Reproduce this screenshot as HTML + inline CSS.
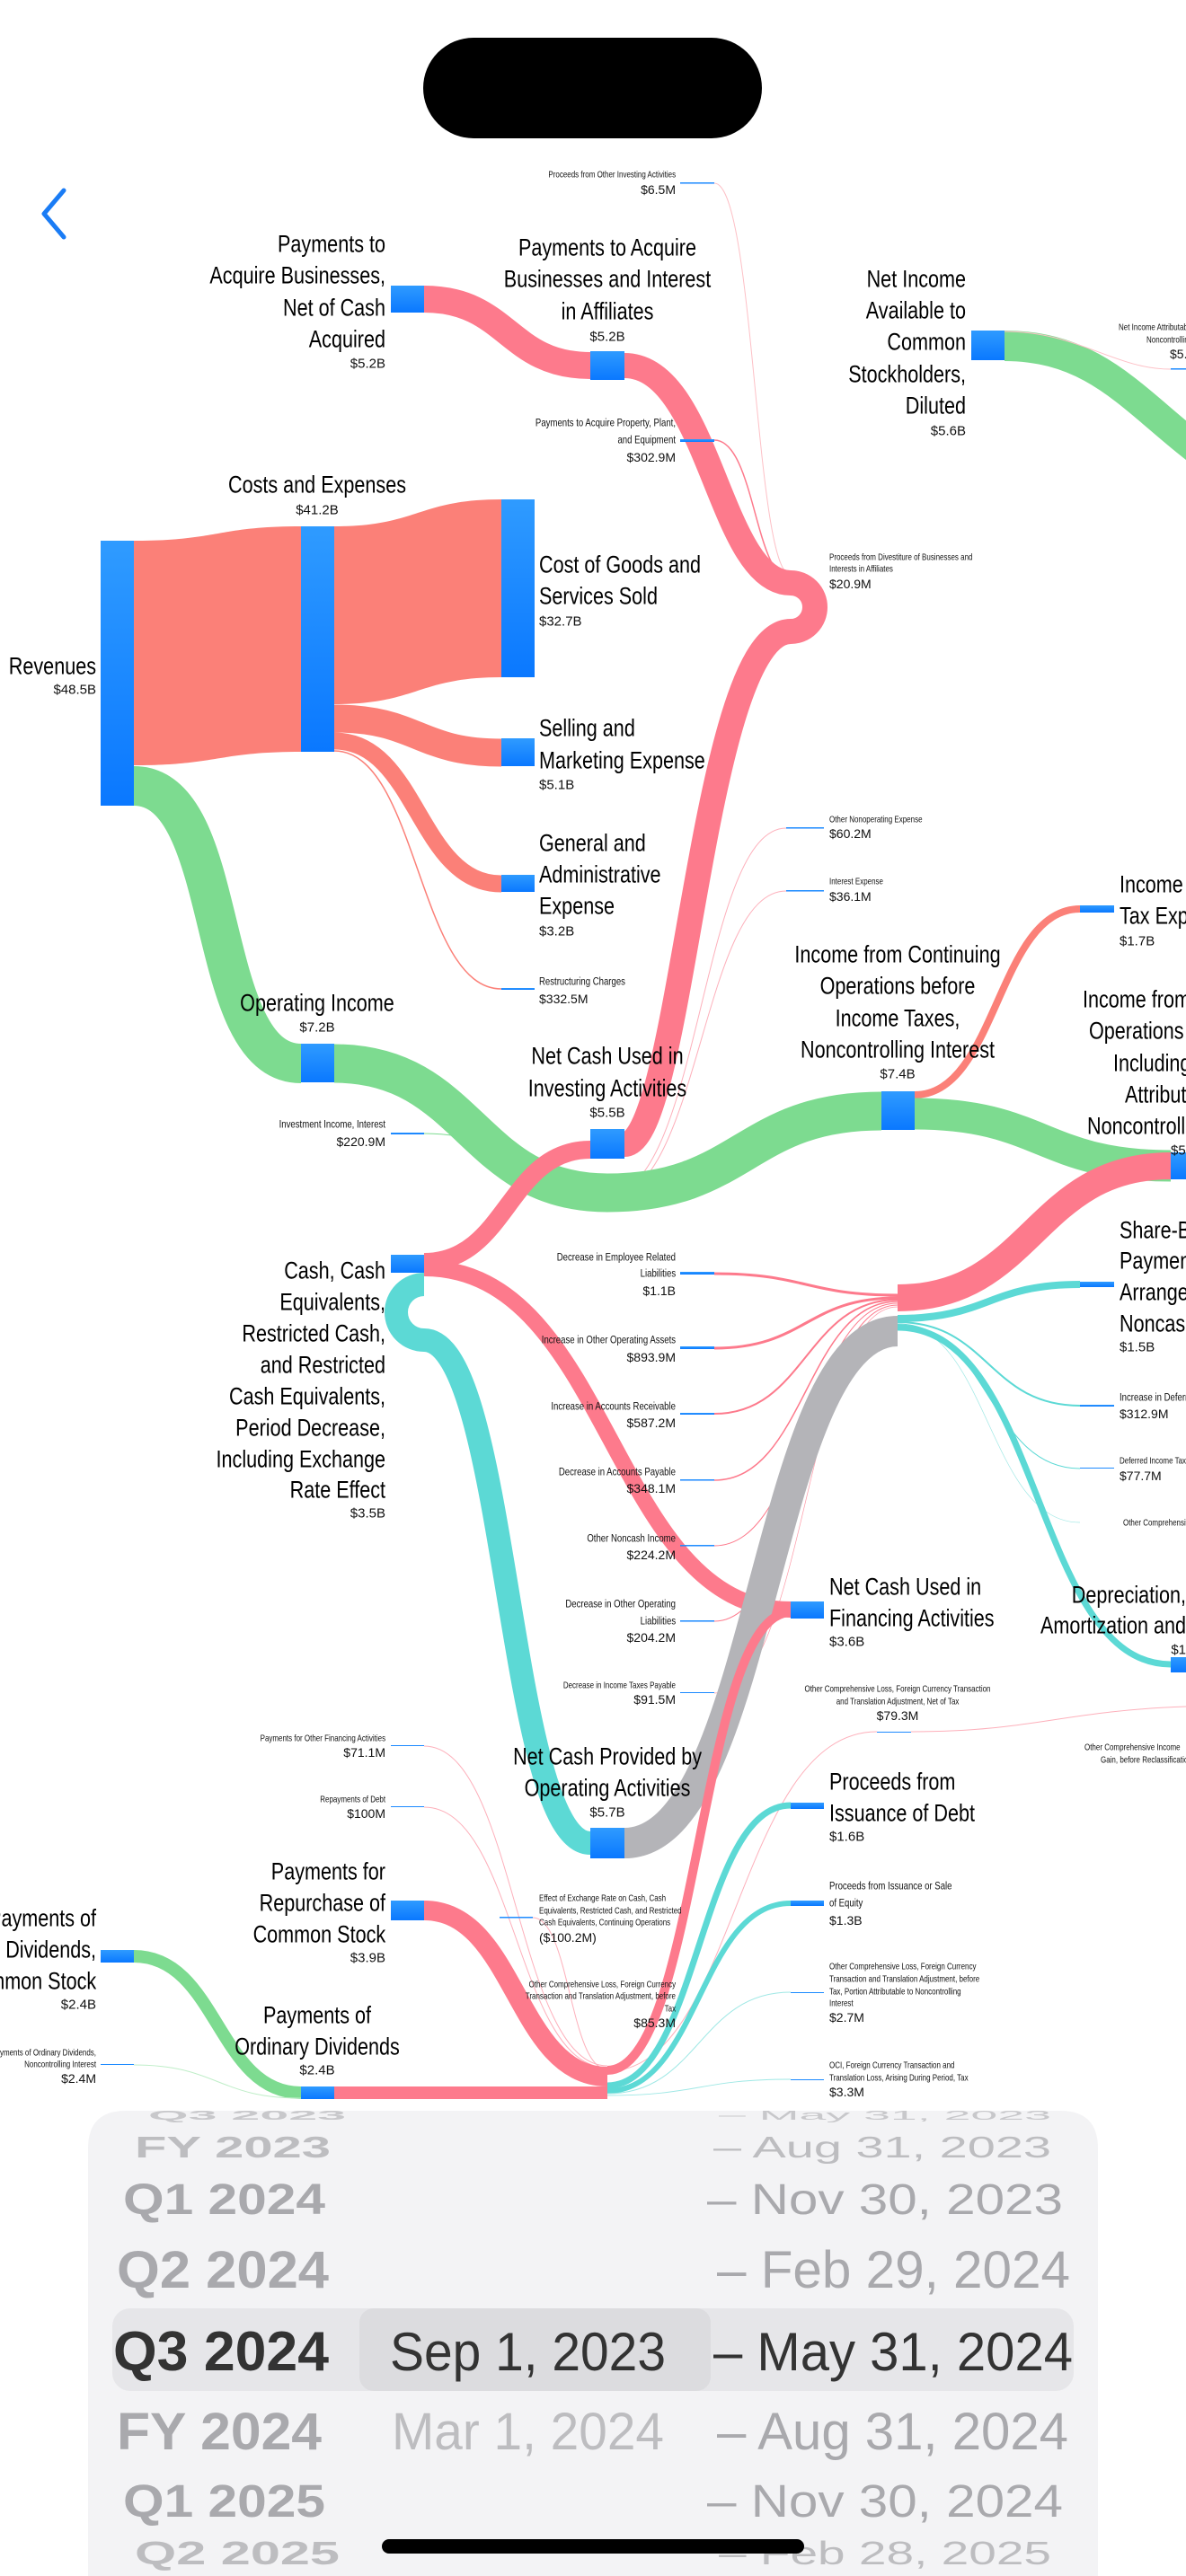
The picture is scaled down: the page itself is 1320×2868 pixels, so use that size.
<!DOCTYPE html>
<html><head><meta charset="utf-8">
<style>
html,body{margin:0;padding:0;background:#fff;}
body{width:1320px;height:2868px;overflow:hidden;position:relative;}
svg{position:absolute;left:0;top:0;}
.L{font-family:"Liberation Sans Narrow","Liberation Sans",sans-serif;font-size:27px;fill:#000;dominant-baseline:central;}
.V{font-family:"Liberation Sans",sans-serif;font-size:15px;fill:#111;dominant-baseline:central;}
.S{font-family:"Liberation Sans Narrow","Liberation Sans",sans-serif;font-size:12px;fill:#111;dominant-baseline:central;}
.SV{font-family:"Liberation Sans",sans-serif;font-size:14px;fill:#111;dominant-baseline:central;}
.L,.S{transform-box:fill-box;transform:scaleX(0.8);transform-origin:left center;}
.L[text-anchor="end"],.S[text-anchor="end"]{transform-origin:right center;}
.L[text-anchor="middle"],.S[text-anchor="middle"]{transform-origin:center center;}
.P{font-family:"Liberation Sans",sans-serif;font-weight:bold;}
.PR{font-family:"Liberation Sans",sans-serif;}
</style></head><body>
<svg width="1320" height="2868" viewBox="0 0 1320 2868" xmlns="http://www.w3.org/2000/svg">
<defs>
<linearGradient id="g" x1="0" y1="0" x2="0" y2="1"><stop offset="0" stop-color="#2f9bff"/><stop offset="1" stop-color="#0a78ff"/></linearGradient>
</defs>
<rect x="471" y="42" width="377" height="112" rx="56" fill="#000"/>
<polyline points="71,212 49,238 71,264" fill="none" stroke="#1a7cf5" stroke-width="5" stroke-linecap="round" stroke-linejoin="round"/>

<g fill="none" stroke-linecap="butt">
<path d="M149,602 C242,602 242,586 335,586 L335,837 C242,837 242,852 149,852 Z" fill="#fb8078" stroke="none"/>
<path d="M372,586 C465,586 465,556 558,556 L558,754 C465,754 465,784 372,784 Z" fill="#fb8078" stroke="none"/>
<path d="M372,800 C465,800 465,838 558,838" stroke="#fb8078" stroke-width="31"/>
<path d="M372,825 C465,825 465,984 558,984" stroke="#fb8078" stroke-width="19"/>
<path d="M372,836 C465,836 465,1101 558,1101" stroke="#fb8078" stroke-width="1.5"/>
<path d="M149,875 C260,875 224,1184 335,1184" stroke="#7ddb90" stroke-width="44"/>
<path d="M472,1262 C574,1262 574,1320 676,1320" stroke="#7ddb90" stroke-width="1"/>
<path d="M875,922 C780,922 780,1330 676,1330" stroke="#fdb0bb" stroke-width="1"/>
<path d="M875,992 C780,992 780,1334 676,1334" stroke="#fdb0bb" stroke-width="1"/>
<path d="M372,1184 C524,1184 524,1328 676,1328 C828,1328 828,1237 981,1237" stroke="#7ddb90" stroke-width="43"/>
<path d="M1018,1219 C1110,1219 1110,1012 1202,1012" stroke="#fb8078" stroke-width="8"/>
<path d="M1018,1240 C1160,1240 1160,1298 1303,1298" stroke="#7ddb90" stroke-width="35"/>
<path d="M1118,385 C1230,385 1270,460 1360,520" stroke="#7ddb90" stroke-width="34"/>
<path d="M1118,369 C1200,369 1240,411 1303,411" stroke="#fdc0c6" stroke-width="1"/>
<path d="M795,204 C840,204 840,640 880,640" stroke="#fdc0c6" stroke-width="1"/>
<path d="M795,490 C840,490 840,645 880,645" stroke="#fd7a8c" stroke-width="1.5"/>
<path d="M472,333 C565,333 565,407 657,407" stroke="#fd7a8c" stroke-width="30"/>
<path d="M695,407 C790,407 800,649 880,649 A27,27 0 0 1 880,703 C780,703 760,1274 695,1274" stroke="#fd7a8c" stroke-width="28"/>
<path d="M472,1405 C565,1405 565,1280 657,1280" stroke="#fd7a8c" stroke-width="20"/>
<path d="M795,1418 C897,1418 897,1442 999,1442" stroke="#fd7a8c" stroke-width="3"/>
<path d="M795,1501 C897,1501 897,1445 999,1445" stroke="#fd7a8c" stroke-width="3"/>
<path d="M795,1574 C897,1574 897,1447 999,1447" stroke="#fd7a8c" stroke-width="2"/>
<path d="M795,1648 C897,1648 897,1449 999,1449" stroke="#fd7a8c" stroke-width="1.5"/>
<path d="M795,1721 C897,1721 897,1451 999,1451" stroke="#fd7a8c" stroke-width="1"/>
<path d="M795,1805 C897,1805 897,1453 999,1453" stroke="#fd7a8c" stroke-width="1"/>
<path d="M795,1885 C897,1885 897,1455 999,1455" stroke="#fd9aa8" stroke-width="0.7"/>
<path d="M472,1430 A31,31 0 0 0 472,1492 C565,1492 565,2052 657,2052" stroke="#5cd9d5" stroke-width="26"/>
<path d="M472,1412 C680,1412 680,1792 880,1792" stroke="#fd7a8c" stroke-width="18"/>
<path d="M695,2052 C850,2052 850,1482 999,1482" stroke="#b4b4b8" stroke-width="34"/>
<path d="M999,1445 C1150,1445 1150,1298 1303,1298" stroke="#fd7a8c" stroke-width="30"/>
<path d="M999,1468 C1100,1468 1100,1430 1202,1430" stroke="#5cd9d5" stroke-width="8"/>
<path d="M999,1472 C1100,1472 1100,1565 1202,1565" stroke="#5cd9d5" stroke-width="2"/>
<path d="M999,1474 C1100,1474 1100,1635 1202,1635" stroke="#5cd9d5" stroke-width="1"/>
<path d="M999,1475 C1100,1475 1100,1695 1202,1695" stroke="#9fe8e5" stroke-width="0.7"/>
<path d="M999,1478 C1160,1478 1150,1853 1303,1853" stroke="#5cd9d5" stroke-width="7"/>
<path d="M1014,1928 C1150,1928 1180,1905 1320,1900" stroke="#fdb0bb" stroke-width="1"/>
<path d="M472,1944 C574,1944 574,2300 676,2300" stroke="#fdb0bb" stroke-width="1"/>
<path d="M472,2012 C574,2012 574,2302 676,2302" stroke="#fdb0bb" stroke-width="1"/>
<path d="M593,2135 C634,2135 634,2304 676,2304" stroke="#fdb0bb" stroke-width="1"/>
<path d="M976,1928 C820,1928 820,2306 676,2306" stroke="#fdb0bb" stroke-width="1"/>
<path d="M880,1795 C778,1795 778,2305 676,2305" stroke="#fd7a8c" stroke-width="10"/>
<path d="M472,2127 C574,2127 574,2312 676,2312" stroke="#fd7a8c" stroke-width="22"/>
<path d="M372,2330 L676,2330" stroke="#fd7a8c" stroke-width="14"/>
<path d="M149,2178 C242,2178 242,2330 335,2330" stroke="#7ddb90" stroke-width="14"/>
<path d="M149,2299 C242,2299 242,2336 335,2336" stroke="#bfeec8" stroke-width="1"/>
<path d="M676,2322 C778,2322 778,2010 880,2010" stroke="#5cd9d5" stroke-width="7"/>
<path d="M676,2328 C778,2328 778,2119 880,2119" stroke="#5cd9d5" stroke-width="6"/>
<path d="M676,2331 C778,2331 778,2218 880,2218" stroke="#9fe8e5" stroke-width="1"/>
<path d="M676,2333 C778,2333 778,2315 880,2315" stroke="#9fe8e5" stroke-width="1"/>
</g>

<g fill="url(#g)">
<rect x="112" y="602" width="37" height="295"/>
<rect x="335" y="586" width="37" height="251"/>
<rect x="558" y="556" width="37" height="198"/>
<rect x="558" y="822" width="37" height="31"/>
<rect x="558" y="974" width="37" height="19"/>
<rect x="558" y="1100" width="37" height="2"/>
<rect x="335" y="1162" width="37" height="43"/>
<rect x="435" y="1261" width="37" height="2"/>
<rect x="657" y="1257" width="38" height="33"/>
<rect x="435" y="318" width="37" height="30"/>
<rect x="657" y="391" width="38" height="32"/>
<rect x="757" y="203" width="38" height="1.5"/>
<rect x="757" y="489" width="38" height="3"/>
<rect x="1081" y="368" width="37" height="33"/>
<rect x="1303" y="410" width="17" height="1.5"/>
<rect x="875" y="921" width="42" height="1.5"/>
<rect x="875" y="991" width="42" height="1.5"/>
<rect x="981" y="1215" width="37" height="43"/>
<rect x="1202" y="1008" width="38" height="8"/>
<rect x="1303" y="1283" width="20" height="30"/>
<rect x="435" y="1397" width="37" height="20"/>
<rect x="757" y="1416" width="38" height="3"/>
<rect x="757" y="1499" width="38" height="3"/>
<rect x="757" y="1573" width="38" height="2"/>
<rect x="757" y="1647" width="38" height="1.5"/>
<rect x="757" y="1720" width="38" height="1.5"/>
<rect x="757" y="1804" width="38" height="1.5"/>
<rect x="757" y="1884" width="38" height="1"/>
<rect x="880" y="1783" width="37" height="19"/>
<rect x="1202" y="1427" width="38" height="6"/>
<rect x="1202" y="1564" width="38" height="2"/>
<rect x="1202" y="1634" width="38" height="1"/>
<rect x="1303" y="1845" width="20" height="17"/>
<rect x="976" y="1928" width="38" height="1"/>
<rect x="880" y="2007" width="37" height="7"/>
<rect x="880" y="2116" width="37" height="6"/>
<rect x="880" y="2218" width="37" height="1"/>
<rect x="880" y="2315" width="37" height="1"/>
<rect x="435" y="1943" width="37" height="1"/>
<rect x="435" y="2011" width="37" height="1"/>
<rect x="435" y="2116" width="37" height="22"/>
<rect x="556" y="2134" width="37" height="1.5"/>
<rect x="112" y="2171" width="37" height="14"/>
<rect x="112" y="2298" width="37" height="1"/>
<rect x="335" y="2323" width="37" height="14"/>
<rect x="657" y="2035" width="38" height="34"/>
</g>

<g>
<text class="L" x="107" y="742" text-anchor="end">Revenues</text><text class="V" x="107" y="768" text-anchor="end">$48.5B</text>
<text class="L" x="353" y="540" text-anchor="middle">Costs and Expenses</text><text class="V" x="353" y="568" text-anchor="middle">$41.2B</text>
<text class="L" x="600" y="629">Cost of Goods and</text><text class="L" x="600" y="664">Services Sold</text><text class="V" x="600" y="692">$32.7B</text>
<text class="L" x="600" y="811">Selling and</text><text class="L" x="600" y="847">Marketing Expense</text><text class="V" x="600" y="874">$5.1B</text>
<text class="L" x="600" y="939">General and</text><text class="L" x="600" y="974">Administrative</text><text class="L" x="600" y="1009">Expense</text><text class="V" x="600" y="1037">$3.2B</text>
<text class="S" x="600" y="1093">Restructuring Charges</text><text class="SV" x="600" y="1112">$332.5M</text>
<text class="L" x="353" y="1117" text-anchor="middle">Operating Income</text><text class="V" x="353" y="1144" text-anchor="middle">$7.2B</text>
<text class="S" x="429" y="1252" text-anchor="end">Investment Income, Interest</text><text class="SV" x="429" y="1271" text-anchor="end">$220.9M</text>
<text class="L" x="676" y="1176" text-anchor="middle">Net Cash Used in</text><text class="L" x="676" y="1212" text-anchor="middle">Investing Activities</text><text class="V" x="676" y="1239" text-anchor="middle">$5.5B</text>
<text class="L" x="429" y="272" text-anchor="end">Payments to</text><text class="L" x="429" y="307" text-anchor="end">Acquire Businesses,</text><text class="L" x="429" y="343" text-anchor="end">Net of Cash</text><text class="L" x="429" y="378" text-anchor="end">Acquired</text><text class="V" x="429" y="405" text-anchor="end">$5.2B</text>
<text class="L" x="676" y="276" text-anchor="middle">Payments to Acquire</text><text class="L" x="676" y="311" text-anchor="middle">Businesses and Interest</text><text class="L" x="676" y="347" text-anchor="middle">in Affiliates</text><text class="V" x="676" y="375" text-anchor="middle">$5.2B</text>
<text class="S" x="752" y="194" text-anchor="end" style="font-size:10px">Proceeds from Other Investing Activities</text><text class="SV" x="752" y="211" text-anchor="end">$6.5M</text>
<text class="S" x="752" y="471" text-anchor="end">Payments to Acquire Property, Plant,</text><text class="S" x="752" y="490" text-anchor="end">and Equipment</text><text class="SV" x="752" y="509" text-anchor="end">$302.9M</text>
<text class="S" x="923" y="620" style="font-size:10px">Proceeds from Divestiture of Businesses and</text><text class="S" x="923" y="633" style="font-size:10px">Interests in Affiliates</text><text class="SV" x="923" y="650">$20.9M</text>
<text class="L" x="1075" y="311" text-anchor="end">Net Income</text><text class="L" x="1075" y="346" text-anchor="end">Available to</text><text class="L" x="1075" y="381" text-anchor="end">Common</text><text class="L" x="1075" y="417" text-anchor="end">Stockholders,</text><text class="L" x="1075" y="452" text-anchor="end">Diluted</text><text class="V" x="1075" y="480" text-anchor="end">$5.6B</text>
<text class="S" x="1245" y="364" style="font-size:10px">Net Income Attributable to</text><text class="S" x="1276" y="378" style="font-size:10px">Noncontrolling</text><text class="SV" x="1302" y="394">$5.</text>
<text class="S" x="923" y="912" style="font-size:10px">Other Nonoperating Expense</text><text class="SV" x="923" y="928">$60.2M</text>
<text class="S" x="923" y="981" style="font-size:10px">Interest Expense</text><text class="SV" x="923" y="998">$36.1M</text>
<text class="L" x="999" y="1063" text-anchor="middle">Income from Continuing</text><text class="L" x="999" y="1098" text-anchor="middle">Operations before</text><text class="L" x="999" y="1134" text-anchor="middle">Income Taxes,</text><text class="L" x="999" y="1169" text-anchor="middle">Noncontrolling Interest</text><text class="V" x="999" y="1196" text-anchor="middle">$7.4B</text>
<text class="L" x="1246" y="985">Income Tax</text><text class="L" x="1246" y="1020">Tax Expense</text><text class="V" x="1246" y="1048">$1.7B</text>
<text class="L" x="1205" y="1113">Income from Continuing</text><text class="L" x="1212" y="1148">Operations</text><text class="L" x="1239" y="1184">Including</text><text class="L" x="1252" y="1219">Attributable</text><text class="L" x="1210" y="1254">Noncontrolling</text><text class="V" x="1303" y="1281">$5.</text>
<text class="L" x="429" y="1415" text-anchor="end">Cash, Cash</text><text class="L" x="429" y="1450" text-anchor="end">Equivalents,</text><text class="L" x="429" y="1485" text-anchor="end">Restricted Cash,</text><text class="L" x="429" y="1520" text-anchor="end">and Restricted</text><text class="L" x="429" y="1555" text-anchor="end">Cash Equivalents,</text><text class="L" x="429" y="1590" text-anchor="end">Period Decrease,</text><text class="L" x="429" y="1625" text-anchor="end">Including Exchange</text><text class="L" x="429" y="1659" text-anchor="end">Rate Effect</text><text class="V" x="429" y="1685" text-anchor="end">$3.5B</text>
<text class="S" x="752" y="1400" text-anchor="end">Decrease in Employee Related</text><text class="S" x="752" y="1418" text-anchor="end">Liabilities</text><text class="SV" x="752" y="1437" text-anchor="end">$1.1B</text>
<text class="S" x="752" y="1492" text-anchor="end">Increase in Other Operating Assets</text><text class="SV" x="752" y="1511" text-anchor="end">$893.9M</text>
<text class="S" x="752" y="1566" text-anchor="end">Increase in Accounts Receivable</text><text class="SV" x="752" y="1584" text-anchor="end">$587.2M</text>
<text class="S" x="752" y="1639" text-anchor="end">Decrease in Accounts Payable</text><text class="SV" x="752" y="1657" text-anchor="end">$348.1M</text>
<text class="S" x="752" y="1713" text-anchor="end">Other Noncash Income</text><text class="SV" x="752" y="1731" text-anchor="end">$224.2M</text>
<text class="S" x="752" y="1786" text-anchor="end">Decrease in Other Operating</text><text class="S" x="752" y="1805" text-anchor="end">Liabilities</text><text class="SV" x="752" y="1823" text-anchor="end">$204.2M</text>
<text class="S" x="752" y="1876" text-anchor="end" style="font-size:10px">Decrease in Income Taxes Payable</text><text class="SV" x="752" y="1892" text-anchor="end">$91.5M</text>
<text class="L" x="923" y="1767">Net Cash Used in</text><text class="L" x="923" y="1802">Financing Activities</text><text class="V" x="923" y="1828">$3.6B</text>
<text class="L" x="1246" y="1370">Share-Based</text><text class="L" x="1246" y="1404">Payment</text><text class="L" x="1246" y="1439">Arrangement,</text><text class="L" x="1246" y="1474">Noncash</text><text class="V" x="1246" y="1500">$1.5B</text>
<text class="S" x="1246" y="1556">Increase in Deferred</text><text class="SV" x="1246" y="1574">$312.9M</text>
<text class="S" x="1246" y="1626" style="font-size:10px">Deferred Income Tax</text><text class="SV" x="1246" y="1643">$77.7M</text>
<text class="S" x="1250" y="1695" style="font-size:10px">Other Comprehensive</text>
<text class="L" x="1320" y="1776" text-anchor="end">Depreciation,</text><text class="L" x="1320" y="1810" text-anchor="end">Amortization and</text><text class="V" x="1320" y="1837" text-anchor="end">$1</text>
<text class="S" x="999" y="1880" text-anchor="middle" style="font-size:10px">Other Comprehensive Loss, Foreign Currency Transaction</text><text class="S" x="999" y="1894" text-anchor="middle" style="font-size:10px">and Translation Adjustment, Net of Tax</text><text class="SV" x="999" y="1910" text-anchor="middle">$79.3M</text>
<text class="S" x="1207" y="1945" style="font-size:10px">Other Comprehensive Income</text><text class="S" x="1225" y="1959" style="font-size:10px">Gain, before Reclassification</text>
<text class="L" x="923" y="1984">Proceeds from</text><text class="L" x="923" y="2019">Issuance of Debt</text><text class="V" x="923" y="2045">$1.6B</text>
<text class="S" x="923" y="2100">Proceeds from Issuance or Sale</text><text class="S" x="923" y="2119">of Equity</text><text class="SV" x="923" y="2138">$1.3B</text>
<text class="S" x="923" y="2189" style="font-size:10px">Other Comprehensive Loss, Foreign Currency</text><text class="S" x="923" y="2203" style="font-size:10px">Transaction and Translation Adjustment, before</text><text class="S" x="923" y="2217" style="font-size:10px">Tax, Portion Attributable to Noncontrolling</text><text class="S" x="923" y="2230" style="font-size:10px">Interest</text><text class="SV" x="923" y="2246">$2.7M</text>
<text class="S" x="923" y="2299" style="font-size:10px">OCI, Foreign Currency Transaction and</text><text class="S" x="923" y="2313" style="font-size:10px">Translation Loss, Arising During Period, Tax</text><text class="SV" x="923" y="2329">$3.3M</text>
<text class="S" x="429" y="1935" text-anchor="end" style="font-size:10px">Payments for Other Financing Activities</text><text class="SV" x="429" y="1951" text-anchor="end">$71.1M</text>
<text class="S" x="429" y="2003" text-anchor="end" style="font-size:10px">Repayments of Debt</text><text class="SV" x="429" y="2019" text-anchor="end">$100M</text>
<text class="L" x="676" y="1956" text-anchor="middle">Net Cash Provided by</text><text class="L" x="676" y="1991" text-anchor="middle">Operating Activities</text><text class="V" x="676" y="2018" text-anchor="middle">$5.7B</text>
<text class="L" x="429" y="2084" text-anchor="end">Payments for</text><text class="L" x="429" y="2119" text-anchor="end">Repurchase of</text><text class="L" x="429" y="2154" text-anchor="end">Common Stock</text><text class="V" x="429" y="2180" text-anchor="end">$3.9B</text>
<text class="S" x="600" y="2113" style="font-size:10px">Effect of Exchange Rate on Cash, Cash</text><text class="S" x="600" y="2127" style="font-size:10px">Equivalents, Restricted Cash, and Restricted</text><text class="S" x="600" y="2140" style="font-size:10px">Cash Equivalents, Continuing Operations</text><text class="SV" x="600" y="2157">($100.2M)</text>
<text class="S" x="752" y="2209" text-anchor="end" style="font-size:10px">Other Comprehensive Loss, Foreign Currency</text><text class="S" x="752" y="2222" text-anchor="end" style="font-size:10px">Transaction and Translation Adjustment, before</text><text class="S" x="752" y="2236" text-anchor="end" style="font-size:10px">Tax</text><text class="SV" x="752" y="2252" text-anchor="end">$85.3M</text>
<text class="L" x="107" y="2136" text-anchor="end">Payments of</text><text class="L" x="107" y="2171" text-anchor="end">Dividends,</text><text class="L" x="107" y="2206" text-anchor="end">Common Stock</text><text class="V" x="107" y="2232" text-anchor="end">$2.4B</text>
<text class="S" x="107" y="2285" text-anchor="end" style="font-size:10px">Payments of Ordinary Dividends,</text><text class="S" x="107" y="2298" text-anchor="end" style="font-size:10px">Noncontrolling Interest</text><text class="SV" x="107" y="2314" text-anchor="end">$2.4M</text>
<text class="L" x="353" y="2244" text-anchor="middle">Payments of</text><text class="L" x="353" y="2279" text-anchor="middle">Ordinary Dividends</text><text class="V" x="353" y="2305" text-anchor="middle">$2.4B</text>
</g>

<path d="M98,2868 L98,2392 Q98,2350 140,2350 L1180,2350 Q1222,2350 1222,2392 L1222,2868 Z" fill="#f3f3f5"/>
<rect x="125" y="2570" width="1070" height="92" rx="20" fill="#e6e6e9"/>
<rect x="400" y="2570" width="391" height="92" rx="16" fill="#dcdcdf"/>
<g>
<text class="P" transform="translate(165,2360) scale(1,0.25)" font-size="60" textLength="220" lengthAdjust="spacingAndGlyphs" style="fill:#c8c8cb">Q3 2023</text>
<text class="PR" transform="translate(800,2360) scale(1,0.25)" font-size="60" textLength="370" lengthAdjust="spacingAndGlyphs" style="fill:#c8c8cb">– May 31, 2023</text>
<text class="P" transform="translate(150,2402) scale(1,0.55)" font-size="60" textLength="218" lengthAdjust="spacingAndGlyphs" style="fill:#bdbdc0">FY 2023</text>
<text class="PR" transform="translate(794,2402) scale(1,0.55)" font-size="60" textLength="376" lengthAdjust="spacingAndGlyphs" style="fill:#bdbdc0">– Aug 31, 2023</text>
<text class="P" transform="translate(137,2465) scale(1,0.8)" font-size="60" textLength="225" lengthAdjust="spacingAndGlyphs" style="fill:#a9a9ad">Q1 2024</text>
<text class="PR" transform="translate(787,2465) scale(1,0.8)" font-size="60" textLength="396" lengthAdjust="spacingAndGlyphs" style="fill:#a9a9ad">– Nov 30, 2023</text>
<text class="P" transform="translate(130,2547) scale(1,0.98)" font-size="60" textLength="236" lengthAdjust="spacingAndGlyphs" style="fill:#a9a9ad">Q2 2024</text>
<text class="PR" transform="translate(798,2547) scale(1,0.98)" font-size="60" textLength="393" lengthAdjust="spacingAndGlyphs" style="fill:#a9a9ad">– Feb 29, 2024</text>
<text class="P" x="126" y="2639" font-size="62" textLength="240" lengthAdjust="spacingAndGlyphs" style="fill:#333">Q3 2024</text>
<text class="PR" x="434" y="2639" font-size="60" textLength="307" lengthAdjust="spacingAndGlyphs" style="fill:#333">Sep 1, 2023</text>
<text class="PR" x="794" y="2639" font-size="60" textLength="400" lengthAdjust="spacingAndGlyphs" style="fill:#333">– May 31, 2024</text>
<text class="P" transform="translate(130,2727) scale(1,0.98)" font-size="60" textLength="228" lengthAdjust="spacingAndGlyphs" style="fill:#a9a9ad">FY 2024</text>
<text class="PR" transform="translate(436,2727) scale(1,0.98)" font-size="60" textLength="303" lengthAdjust="spacingAndGlyphs" style="fill:#bdbdc0">Mar 1, 2024</text>
<text class="PR" transform="translate(798,2727) scale(1,0.98)" font-size="60" textLength="391" lengthAdjust="spacingAndGlyphs" style="fill:#a9a9ad">– Aug 31, 2024</text>
<text class="P" transform="translate(137,2802) scale(1,0.85)" font-size="60" textLength="225" lengthAdjust="spacingAndGlyphs" style="fill:#a9a9ad">Q1 2025</text>
<text class="PR" transform="translate(787,2802) scale(1,0.85)" font-size="60" textLength="396" lengthAdjust="spacingAndGlyphs" style="fill:#a9a9ad">– Nov 30, 2024</text>
<text class="P" transform="translate(150,2855) scale(1,0.6)" font-size="60" textLength="228" lengthAdjust="spacingAndGlyphs" style="fill:#bdbdc0">Q2 2025</text>
<text class="PR" transform="translate(800,2855) scale(1,0.6)" font-size="60" textLength="370" lengthAdjust="spacingAndGlyphs" style="fill:#bdbdc0">– Feb 28, 2025</text>
</g>
<rect x="425" y="2827" width="470" height="16" rx="8" fill="#000"/>
</svg>
</body></html>
